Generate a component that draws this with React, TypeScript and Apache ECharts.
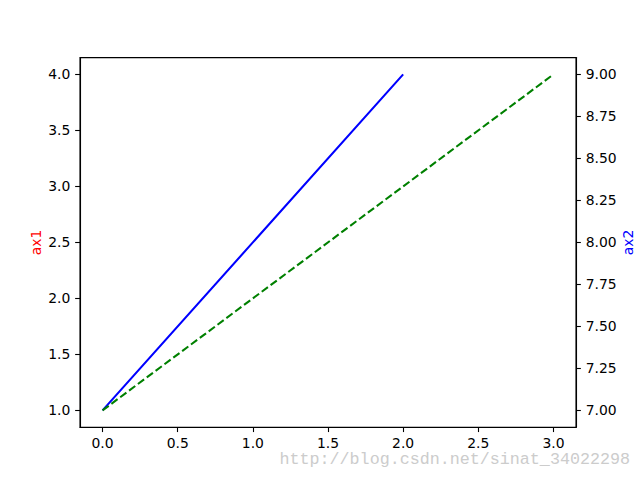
import React, { useEffect, useRef } from "react";
import * as echarts from "echarts";

const xTicks = [0, 0.5, 1, 1.5, 2, 2.5, 3];
const ax1Ticks = [1, 1.5, 2, 2.5, 3, 3.5, 4];
const ax2Ticks = [7, 7.25, 7.5, 7.75, 8, 8.25, 8.5, 8.75, 9];
const blueX = [0, 1, 2];
const blueY = [1, 2.5, 4];
const greenX = [0, 1, 2, 3];
const greenY = [7, 7.6667, 8.3333, 9];
const watermark = "http://blog.csdn.net/sinat_34022298";

const FONT = "DejaVu Sans";

export default function App() {
  const ref = useRef<HTMLDivElement>(null);
  useEffect(() => {
    if (!ref.current) return;
    const chart = echarts.init(ref.current, undefined, { renderer: "svg" });
    const label = { color: "#000", fontFamily: FONT, fontSize: 13.9 };
    const axisLine = { show: true, onZero: false, lineStyle: { color: "#000", width: 1.1 } };
    const tick = (vals: number[]) => ({
      show: true,
      length: 4.86,
      customValues: vals,
      lineStyle: { color: "#000", width: 1.1 },
    });
    chart.setOption({
      animation: false,
      backgroundColor: "#fff",
      grid: {
        left: 80,
        right: 64,
        top: 57.6,
        bottom: 52.8,
        containLabel: false,
        outerBoundsMode: "none",
        show: true,
        borderColor: "#000",
        borderWidth: 1.1,
        backgroundColor: "transparent",
      },
      xAxis: {
        type: "value",
        min: -0.15,
        max: 3.15,
        axisLine,
        axisTick: tick(xTicks),
        axisLabel: { ...label, margin: 9, customValues: xTicks, formatter: (v: number) => v.toFixed(1) },
        splitLine: { show: false },
      },
      yAxis: [
        {
          type: "value",
          position: "left",
          min: 0.85,
          max: 4.15,
          name: "ax1",
          nameLocation: "middle",
          nameRotate: 90,
          nameGap: 37,
          nameMoveOverlap: false,
          nameTextStyle: { color: "#ff0000", fontFamily: FONT, fontSize: 13.9 },
          axisLine,
          axisTick: tick(ax1Ticks),
          axisLabel: { ...label, margin: 9.7, customValues: ax1Ticks, formatter: (v: number) => v.toFixed(1) },
          splitLine: { show: false },
        },
        {
          type: "value",
          position: "right",
          min: 6.9,
          max: 9.1,
          name: "ax2",
          nameLocation: "middle",
          nameRotate: 90,
          nameGap: 45,
          nameMoveOverlap: false,
          nameTextStyle: { color: "#0000ff", fontFamily: FONT, fontSize: 13.9 },
          axisLine,
          axisTick: tick(ax2Ticks),
          axisLabel: { ...label, margin: 9.7, customValues: ax2Ticks, formatter: (v: number) => v.toFixed(2) },
          splitLine: { show: false },
        },
      ],
      series: [
        {
          type: "line",
          yAxisIndex: 0,
          data: blueX.map((x, i) => [x, blueY[i]]),
          showSymbol: false,
          lineStyle: { color: "#0000ff", width: 2.08 },
          itemStyle: { color: "#0000ff" },
        },
        {
          type: "line",
          yAxisIndex: 1,
          data: greenX.map((x, i) => [x, greenY[i]]),
          showSymbol: false,
          lineStyle: { color: "#008000", width: 2.08, type: [7.7, 3.33] },
          itemStyle: { color: "#008000" },
        },
      ],
      graphic: [
        {
          type: "text",
          right: 10,
          top: 451,
          style: {
            text: watermark,
            fill: "#cccccc",
            font: '16.7px "Liberation Mono"',
          },
        },
      ],
    });
    return () => chart.dispose();
  }, []);
  return (
    <div
      ref={ref}
      style={{ position: "fixed", left: 0, top: 0, width: 640, height: 480, background: "#fff" }}
    />
  );
}
